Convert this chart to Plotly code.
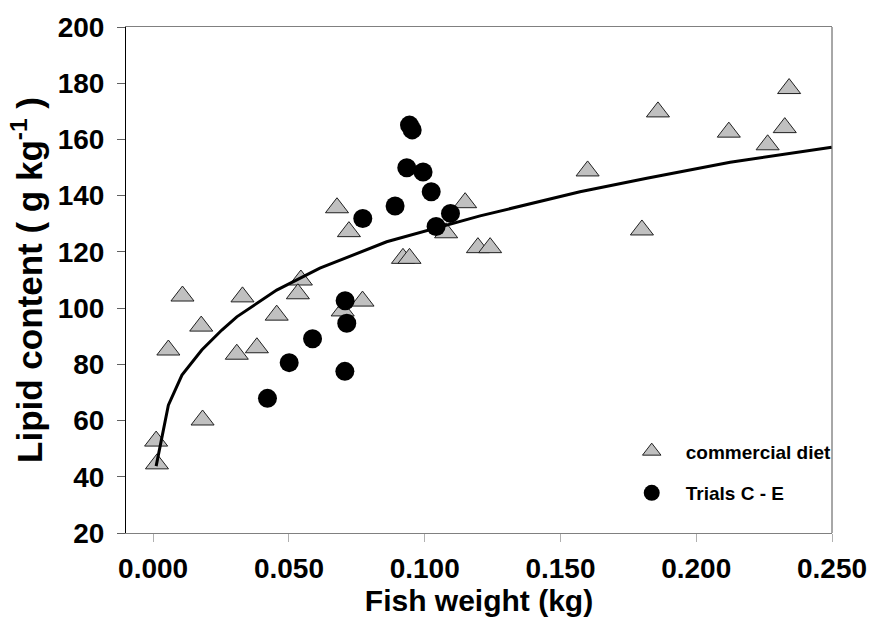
import plotly.graph_objects as go

# Commercial diet: fish weight (kg) and whole-body lipid (g/kg)
commercial_weight = [0.0014, 0.0011, 0.0182, 0.0056, 0.0308, 0.0382,
                     0.0108, 0.0329, 0.0177, 0.0455, 0.0544, 0.0533,
                     0.0771, 0.0698, 0.0920, 0.0944, 0.1196, 0.1241,
                     0.0677, 0.0721, 0.1149, 0.1079,
                     0.2342, 0.1859, 0.2120, 0.2326, 0.2263, 0.1600, 0.1800]
commercial_lipid = [44.6, 52.7, 60.2, 85.1, 83.6, 85.9,
                    104.3, 104.0, 93.6, 97.5, 110.0, 105.1,
                    102.5, 99.0, 117.7, 117.7, 121.5, 121.5,
                    135.7, 127.2, 137.5, 126.8,
                    178.1, 169.8, 162.6, 164.2, 158.1, 148.8, 127.8]

# Trials C - E
trial_weight = [0.0944, 0.0954, 0.0934, 0.0994, 0.1024, 0.0891, 0.0772,
                0.1095, 0.1042, 0.0707, 0.0713, 0.0587, 0.0501, 0.0706, 0.0421]
trial_lipid = [165.1, 163.4, 149.9, 148.4, 141.4, 136.3, 131.9,
               133.7, 129.0, 102.6, 94.6, 89.1, 80.6, 77.5, 67.9]

# Regression curve (lipid vs weight)
curve_weight = [0.0011, 0.0056, 0.0106, 0.0179, 0.0253, 0.0308, 0.0455,
                0.0614, 0.0860, 0.1204, 0.1572, 0.1818, 0.2125, 0.2499]
curve_lipid = [43.8, 65.5, 76.2, 85.1, 92.2, 96.9, 106.4,
               114.2, 123.6, 132.8, 141.4, 146.2, 151.9, 157.2]

x_ticks = [0.0, 0.05, 0.10, 0.15, 0.20, 0.25]
x_tick_text = ["0.000", "0.050", "0.100", "0.150", "0.200", "0.250"]
y_ticks = [20, 40, 60, 80, 100, 120, 140, 160, 180, 200]

FONT = "Liberation Sans, Arial, sans-serif"

fig = go.Figure()

fig.add_trace(go.Scatter(
    x=commercial_weight, y=commercial_lipid, mode="markers",
    name="commercial diet", legendgroup="a",
    marker=dict(symbol="triangle-up", size=20, color="#c0c0c0",
                line=dict(color="#202020", width=1)),
))

fig.add_trace(go.Scatter(
    x=curve_weight, y=curve_lipid, mode="lines", showlegend=False,
    line=dict(color="black", width=3),
))

fig.add_trace(go.Scatter(
    x=trial_weight, y=trial_lipid, mode="markers",
    name="Trials C - E", legendgroup="b",
    marker=dict(symbol="circle", size=19, color="black",
                line=dict(color="black", width=0)),
))

tick_font = dict(family=FONT, size=28, color="black", weight="bold")

fig.update_layout(
    width=869, height=633,
    margin=dict(l=126, r=37, t=27, b=100, autoexpand=False),
    plot_bgcolor="white", paper_bgcolor="white",
    font=dict(family=FONT, color="black"),
    legend=dict(
        x=0.6965, y=0.199, xanchor="left", yanchor="top",
        bgcolor="rgba(0,0,0,0)", borderwidth=0,
        itemwidth=58, traceorder="grouped", tracegroupgap=14,
        font=dict(family=FONT, size=19, color="black", weight="bold"),
    ),
    xaxis=dict(
        range=[-0.01, 0.25], tickvals=x_ticks, ticktext=x_tick_text,
        ticks="outside", ticklen=8, tickcolor="#b0b0b0", tickwidth=1,
        showline=True, linecolor="#808080", linewidth=1, mirror=True,
        showgrid=False, zeroline=False, automargin=False,
        tickfont=tick_font, ticklabelstandoff=2,
        title=dict(text="Fish weight (kg)", standoff=1,
                   font=dict(family=FONT, size=30, color="black", weight="bold")),
    ),
    yaxis=dict(
        range=[20, 200], tickvals=y_ticks,
        ticks="outside", ticklen=8, tickcolor="#606060", tickwidth=1,
        showline=True, linecolor="black", linewidth=1,
        showgrid=False, zeroline=False, automargin=False,
        tickfont=tick_font, ticklabelstandoff=7,
        title=dict(text="Lipid content ( g kg<sup>-1</sup> )", standoff=4,
                   font=dict(family=FONT, size=35, color="black", weight="bold")),
    ),
    shapes=[dict(type="line", xref="paper", yref="paper", x0=1, x1=1, y0=0, y1=1,
                 line=dict(color="#505050", width=1))],
)

fig.write_html("out.html")
